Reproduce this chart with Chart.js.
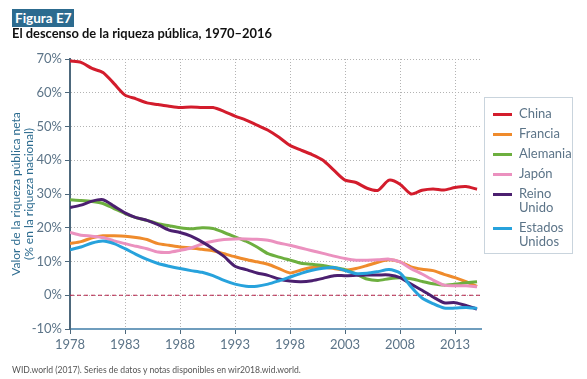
<!DOCTYPE html>
<html>
<head>
<meta charset="utf-8">
<script src="https://cdn.jsdelivr.net/npm/chart.js@4.4.1/dist/chart.umd.min.js"></script>
<style>
  html, body { margin: 0; padding: 0; background: #fff; }
  body { width: 587px; height: 379px; position: relative; overflow: hidden; font-family: 'Lato', 'Open Sans', sans-serif; }
  #chart { position: absolute; left: 0; top: 0; }
  .tag { position: absolute; left: 12px; top: 9px; background: #2c6b8f; color: #fff; font-weight: bold; font-size: 13.5px; padding: 0 3px; line-height: 18px; }
  .title { position: absolute; left: 12px; top: 25px; font-weight: bold; font-size: 12.9px; color: #111; }
  .source { position: absolute; left: 12px; top: 365px; font-size: 8.6px; color: #555; }
  #legend { position: absolute; left: 484px; top: 97px; width: 89px; height: 157px; border: 1px solid #c9d4dd; box-sizing: border-box; padding-top: 8px; }
  .item { display: flex; align-items: flex-start; margin-bottom: 6px; }
  .swatch { width: 19px; height: 3px; margin: 7px 7px 0 8px; flex: none; }
  .label { width: 56px; font-size: 13px; line-height: 14px; color: #5c7488; }
</style>
</head>
<body>
<canvas id="chart" width="587" height="379"></canvas>
<div class="tag">Figura E7</div>
<div class="title">El descenso de la riqueza pública, 1970–2016</div>
<div id="legend"></div>
<div class="source">WID.world (2017). Series de datos y notas disponibles en wir2018.wid.world.</div>
<script>
const years = [];
for (let y = 1978; y <= 2015; y++) years.push(y);

const xTickYears = [1978, 1983, 1988, 1993, 1998, 2003, 2008, 2013];

const countries = ['China', 'Francia', 'Alemania', 'Japón', 'Reino Unido', 'Estados Unidos'];
const colors = ['#d31c2c', '#ef8b2c', '#6daf3f', '#eb91bf', '#4b1f6f', '#27a2dc'];

const china = [69.4, 69.0, 67.2, 66.0, 62.7, 59.3, 58.2, 57.0, 56.5, 56.0, 55.6, 55.8, 55.6, 55.6, 54.5, 53.1, 51.9, 50.4, 48.9, 46.8,
  44.4, 43.0, 41.7, 40.0, 37.0, 34.1, 33.4, 31.7, 31.1, 34.1, 32.9, 30.0, 31.1, 31.5, 31.2, 31.9, 32.2, 31.4];
const francia = [15.3, 15.9, 17.0, 17.6, 17.6, 17.5, 17.1, 16.5, 15.3, 14.8, 14.3, 14.0, 13.6, 13.2, 12.3, 11.4, 10.6, 9.9, 9.2, 7.9,
  6.6, 7.5, 8.2, 8.4, 7.9, 7.4, 7.9, 8.8, 9.8, 10.5, 9.9, 8.4, 7.7, 7.3, 6.2, 5.2, 4.0, 2.6];
const alemania = [28.3, 28.1, 27.8, 27.2, 25.7, 24.2, 23.0, 22.2, 21.2, 20.6, 20.0, 19.7, 20.0, 19.8, 18.6, 17.3, 16.0, 14.3, 12.3, 11.3,
  10.4, 9.5, 9.2, 8.8, 8.2, 7.6, 6.3, 4.8, 4.4, 4.9, 5.2, 4.9, 4.1, 3.4, 3.0, 3.3, 3.7, 4.0];
const japon = [18.6, 17.8, 17.5, 17.1, 16.1, 15.3, 14.5, 13.8, 12.8, 12.7, 13.3, 14.0, 15.2, 16.0, 16.5, 16.7, 16.7, 16.6, 16.3, 15.5,
  14.8, 14.0, 13.2, 12.4, 11.6, 10.9, 10.4, 10.4, 10.5, 10.7, 9.9, 7.9, 6.3, 4.5, 3.0, 2.8, 2.8, 2.5];
const reinoUnido = [26.0, 26.7, 27.9, 28.3, 26.4, 24.4, 23.0, 22.2, 20.9, 19.3, 18.6, 17.5, 15.8, 13.8, 11.5, 8.6, 7.6, 6.6, 5.9, 4.8,
  4.2, 4.0, 4.3, 5.0, 5.8, 5.8, 5.9, 6.0, 6.0, 6.0, 5.2, 3.3, 1.5, -0.5, -2.2, -2.2, -3.0, -4.1];
const estadosUnidos = [13.5, 14.3, 15.5, 16.1, 15.3, 13.8, 12.1, 10.6, 9.4, 8.6, 7.9, 7.3, 6.8, 5.8, 4.4, 3.3, 2.7, 2.7, 3.3, 4.3,
  5.4, 6.5, 7.4, 8.0, 8.2, 7.3, 6.4, 6.5, 7.0, 7.6, 6.6, 2.5, -0.8, -2.5, -3.8, -3.8, -3.6, -3.9];

const series = [china, francia, alemania, japon, reinoUnido, estadosUnidos];

const tickColor = '#5c7488';
const axisColor = '#4d687c';

// dashed red line at 0%
const zeroLine = {
  id: 'zeroLine',
  beforeDatasetsDraw(chart) {
    const { ctx, chartArea, scales } = chart;
    const y = scales.y.getPixelForValue(0);
    ctx.save();
    ctx.strokeStyle = '#b5234a';
    ctx.lineWidth = 1;
    ctx.setLineDash([4, 3]);
    ctx.beginPath();
    ctx.moveTo(chartArea.left, y);
    ctx.lineTo(chartArea.right, y);
    ctx.stroke();
    ctx.restore();
  }
};

const chart = new Chart(document.getElementById('chart'), {
  type: 'line',
  data: {
    datasets: series.map((vals, i) => ({
      label: countries[i],
      data: vals.map((v, j) => ({ x: years[j], y: v })),
      borderColor: colors[i],
      backgroundColor: colors[i],
      borderWidth: 3,
      pointRadius: 0,
      tension: 0.25,
      order: series.length - i
    }))
  },
  options: {
    responsive: false,
    devicePixelRatio: 1,
    animation: false,
    layout: { padding: { left: 10, right: 106, top: 59, bottom: 14 } },
    plugins: { legend: { display: false }, tooltip: { enabled: false } },
    scales: {
      x: {
        type: 'linear',
        min: 1978,
        max: 2015.36,
        afterBuildTicks: scale => { scale.ticks = xTickYears.map(v => ({ value: v })); },
        afterFit: scale => { scale.height = 36; },
        ticks: {
          color: tickColor,
          font: { family: 'Lato', size: 13 },
          padding: 3,
          maxRotation: 0,
          callback: v => String(v)
        },
        grid: {
          color: '#b3b3b3',
          tickLength: 5,
          tickColor: axisColor,
          tickBorderDash: [],
          tickWidth: 1
        },
        border: { color: '#6f9dbd', width: 2, dash: [1, 2] }
      },
      y: {
        min: -10,
        max: 70,
        afterFit: scale => { scale.width = 60; },
        ticks: {
          stepSize: 10,
          color: tickColor,
          font: { family: 'Lato', size: 13 },
          padding: 3,
          callback: v => v + '%'
        },
        grid: {
          color: '#b3b3b3',
          tickLength: 5,
          tickColor: axisColor,
          tickBorderDash: [],
          tickWidth: 1
        },
        border: { color: axisColor, width: 2, dash: [1, 2] },
        title: {
          display: true,
          text: ['Valor de la riqueza pública neta', '(% en la riqueza nacional)'],
          color: '#2c6b8f',
          font: { family: 'Lato', size: 12, lineHeight: 1.05 },
          padding: { top: 0, bottom: 0 }
        }
      }
    }
  },
  plugins: [zeroLine]
});

// legend built from the chart's datasets
const legend = document.getElementById('legend');
chart.data.datasets.forEach(ds => {
  const item = document.createElement('div');
  item.className = 'item';
  item.innerHTML = `<span class="swatch" style="background:${ds.borderColor}"></span><span class="label">${ds.label}</span>`;
  legend.appendChild(item);
});
</script>
</body>
</html>
